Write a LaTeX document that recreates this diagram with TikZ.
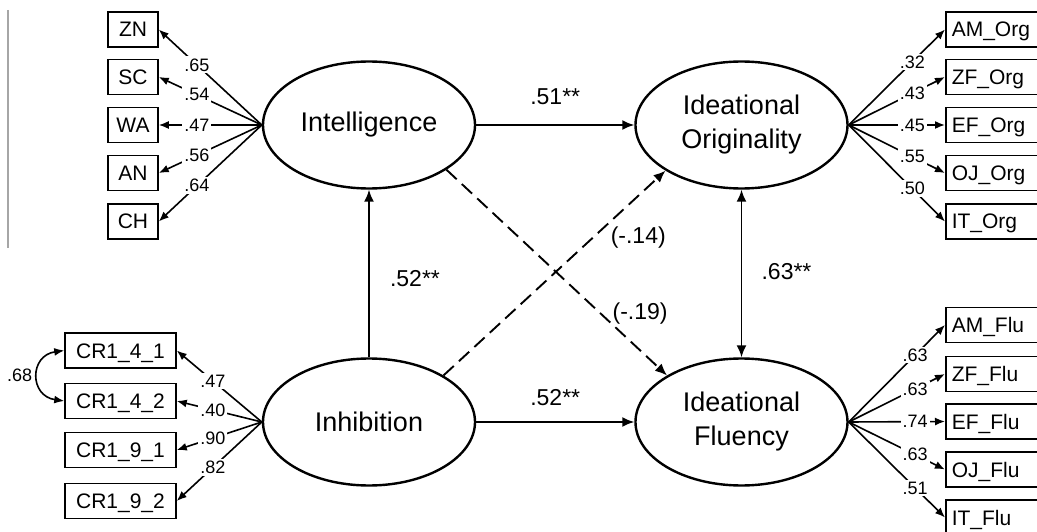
\documentclass[tikz,border=0pt]{standalone}
\usepackage{fontspec}
\setmainfont{Liberation Sans}
\usetikzlibrary{shapes.geometric,arrows.meta}
\begin{document}
\begin{tikzpicture}[x=1pt,y=-1pt,
  lat/.style={ellipse, draw, line width=2.4pt, minimum width=212pt, minimum height=127pt, inner sep=0pt, font=\fontsize{27}{34}\selectfont, align=center},
  obs/.style={rectangle, draw, line width=1.5pt, minimum height=35pt, inner sep=0pt, text height=15pt, text depth=0pt, font=\fontsize{21}{25}\selectfont},
  obsr/.style={obs, anchor=west, inner xsep=6pt, text width=88pt, align=left},
  tipS/.tip={Latex[length=10pt,width=8pt]},
  tipL/.tip={Latex[length=12pt,width=10pt]},
  load/.style={line width=1.6pt, -tipS},
  lv/.style={fill=white, inner sep=2pt, font=\fontsize{18}{20}\selectfont},
  sarrow/.style={line width=1.9pt, -tipL},
  plbl/.style={font=\fontsize{23}{26}\selectfont, inner sep=0pt},
  dashline/.style={dash pattern=on 14pt off 7pt},
]
\useasboundingbox (0,0) rectangle (1037,532);
\clip (0,0) rectangle (1037,532);

% stray gray rule at the left
\draw[gray!70, line width=1.6pt] (8,10) -- (8,248);

% latent variables
\node[lat] (intel) at (369,125) {Intelligence};
\node[lat] (inh) at (369,422) {Inhibition};
\node[lat] (orig) at (741.5,125) {Ideational\\Originality};
\node[lat] (flu) at (741.5,422) {Ideational\\Fluency};

% left top indicators
\node[obs, minimum width=50pt] (zn) at (133,29.5) {ZN};
\node[obs, minimum width=50pt] (sc) at (133,77) {SC};
\node[obs, minimum width=50pt] (wa) at (133,125) {WA};
\node[obs, minimum width=50pt] (an) at (133,173) {AN};
\node[obs, minimum width=50pt] (ch) at (133,221.5) {CH};

% left bottom indicators
\node[obs, minimum width=111pt] (c41) at (120.5,350.5) {CR1\_4\_1};
\node[obs, minimum width=111pt] (c42) at (120.5,401) {CR1\_4\_2};
\node[obs, minimum width=111pt] (c91) at (120.5,450) {CR1\_9\_1};
\node[obs, minimum width=111pt] (c92) at (120.5,501) {CR1\_9\_2};

% right top indicators
\node[obsr] (amo) at (945,29.5) {AM\_Org};
\node[obsr] (zfo) at (945,77) {ZF\_Org};
\node[obsr] (efo) at (945,125) {EF\_Org};
\node[obsr] (ojo) at (945,173) {OJ\_Org};
\node[obsr] (ito) at (945,221.5) {IT\_Org};

% right bottom indicators
\node[obsr] (amf) at (945,325) {AM\_Flu};
\node[obsr] (zff) at (945,374) {ZF\_Flu};
\node[obsr] (eff) at (945,421.5) {EF\_Flu};
\node[obsr] (ojf) at (945,469.5) {OJ\_Flu};
\node[obsr] (itf) at (945,517.5) {IT\_Flu};

% loadings
\foreach \b/\l in {zn/.65, sc/.54, wa/.47, an/.56, ch/.64}
  \draw[load] (intel.west) -- node[lv, pos=0.63]{\l} (\b.east);
\foreach \b/\l in {c41/.47, c42/.40, c91/.90, c92/.82}
  \draw[load] (inh.west) -- node[lv, pos=0.575]{\l} (\b.east);
\foreach \b/\l in {amo/.32, zfo/.43, efo/.45, ojo/.55, ito/.50}
  \draw[load] (orig.east) -- node[lv, pos=0.66]{\l} (\b.west);
\foreach \b/\l in {amf/.63, zff/.63, eff/.74, ojf/.63, itf/.51}
  \draw[load] (flu.east) -- node[lv, pos=0.69]{\l} (\b.west);

% error covariance
\draw[line width=1.6pt, tipS-tipS] (c41.west) .. controls +(-35,5) and +(-35,-5) .. node[pos=0.5, left=5pt, inner sep=0pt, font=\fontsize{18}{20}\selectfont]{.68} (c42.west);

% structural paths
\draw[sarrow] (intel) -- node[plbl, midway, yshift=28pt]{.51**} (orig);
\draw[sarrow] (inh) -- node[plbl, midway, yshift=24pt]{.52**} (flu);
\draw[sarrow] (inh) -- node[plbl, midway, xshift=46pt, yshift=-5pt]{.52**} (intel);
\draw[sarrow, tipL-tipL] (orig) -- node[plbl, midway, xshift=45pt, yshift=2pt]{.63**} (flu);
\draw[sarrow, dashline] (intel.-30) -- node[plbl, pos=0.878, yshift=37pt]{(-.19)} (flu.148);
\draw[sarrow, dashline] (inh.32) -- node[plbl, pos=0.877, yshift=-42pt]{(-.14)} (orig.211);
\end{tikzpicture}
\end{document}
